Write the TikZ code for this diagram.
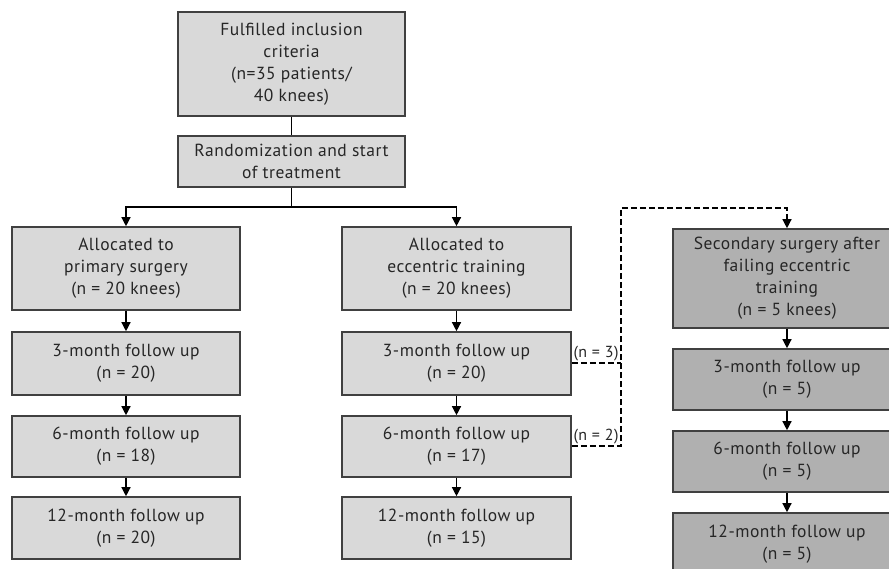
\documentclass[tikz,border=0pt]{standalone}
\usepackage{fontspec}
\setmainfont{PT Sans}[LetterSpace=3]
\usetikzlibrary{arrows.meta}
\definecolor{boxlight}{HTML}{D9D9D9}
\definecolor{boxdark}{HTML}{B0B0B0}
\definecolor{edgec}{HTML}{404040}
\definecolor{txt}{HTML}{262626}
\begin{document}
\begin{tikzpicture}[x=1pt,y=-1pt,
  box/.style={draw=edgec,line width=1.6pt,fill=boxlight,rectangle,align=center,
    inner sep=0pt,text=txt,font=\fontsize{17.5}{22}\selectfont},
  dbox/.style={box,fill=boxdark},
  arr/.style={line width=1.3pt,-{Triangle[length=9pt,width=9pt]}},
  dashln/.style={line width=1.3pt,dash pattern=on 6pt off 3pt},
  lbl/.style={font=\fontsize{16}{18}\selectfont,text=txt,inner sep=1pt}]
\useasboundingbox (0,0) rectangle (889,569);
\begin{scope}
\clip (0,0) rectangle (889,569);
\node[box,minimum width=227,minimum height=104] (top) at (291.5,64) {Fulfilled inclusion\\criteria\\(n=35 patients/\\40 knees)};
\node[box,minimum width=227,minimum height=51] (rand) at (291.5,161.5) {Randomization and start\\of treatment};
% left column
\node[box,minimum width=228,minimum height=83] (la) at (126,268.5) {Allocated to\\primary surgery\\(n = 20 knees)};
\node[box,minimum width=228,minimum height=63] (l3) at (126,363.5) {3-month follow up\\(n = 20)};
\node[box,minimum width=228,minimum height=61] (l6) at (126,446.5) {6-month follow up\\(n = 18)};
\node[box,minimum width=228,minimum height=62] (l12) at (126,528) {12-month follow up\\(n = 20)};
% middle column
\node[box,minimum width=229,minimum height=83] (ma) at (456.5,268.5) {Allocated to\\eccentric training\\(n = 20 knees)};
\node[box,minimum width=229,minimum height=63] (m3) at (456.5,363.5) {3-month follow up\\(n = 20)};
\node[box,minimum width=229,minimum height=61] (m6) at (456.5,446.5) {6-month follow up\\(n = 17)};
\node[box,minimum width=229,minimum height=62] (m12) at (456.5,528) {12-month follow up\\(n = 15)};
% right column
\node[dbox,minimum width=228,minimum height=99] (rs) at (787,278.5) {Secondary surgery after\\failing eccentric\\training\\(n = 5 knees)};
\node[dbox,minimum width=228,minimum height=61] (r3) at (787,379.5) {3-month follow up\\(n = 5)};
\node[dbox,minimum width=228,minimum height=61] (r6) at (787,461.5) {6-month follow up\\(n = 5)};
\node[dbox,minimum width=228,minimum height=62] (r12) at (787,544) {12-month follow up\\(n = 5)};
\end{scope}
% connectors
\draw[line width=1.3pt] (top) -- (rand);
\coordinate (br) at (291.5,207);
\draw[line width=1.3pt] (rand) -- (br);
\draw[arr] (br) -| (la);
\draw[arr] (br) -| (ma);
\draw[arr] (la) -- (l3);
\draw[arr] (l3) -- (l6);
\draw[arr] (l6) -- (l12);
\draw[arr] (ma) -- (m3);
\draw[arr] (m3) -- (m6);
\draw[arr] (m6) -- (m12);
\draw[arr] (rs) -- (r3);
\draw[arr] (r3) -- (r6);
\draw[arr] (r6) -- (r12);
% dashed
\coordinate (d3) at (621,363);
\coordinate (d6) at (621,446);
\coordinate (dt) at (621,208);
\draw[dashln] (m3.east |- d3) -- (d3);
\draw[dashln,-{Triangle[length=9pt,width=9pt]}] (m6.east |- d6) -- (d6) -- (dt) -| (rs.north);
\node[lbl,anchor=south] (n3) at (596,362) {(n = 3)};
\node[lbl,anchor=south] (n2) at (596,445) {(n = 2)};
\end{tikzpicture}
\end{document}
